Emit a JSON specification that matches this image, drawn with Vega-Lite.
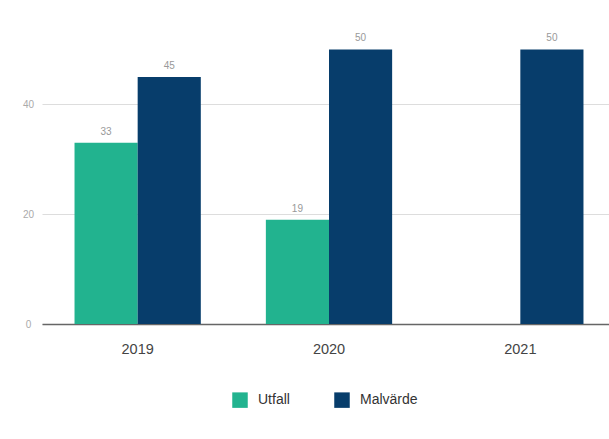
{
  "$schema": "https://vega.github.io/schema/vega-lite/v6.json",
  "width": 574,
  "height": 324,
  "autosize": {"type": "none"},
  "padding": {"left": 42, "top": 0, "right": 0, "bottom": 115},
  "background": "white",
  "config": {"view": {"stroke": null}, "font": "Liberation Sans"},
  "data": {"values": [
    {"year": "2019", "serie": "Utfall", "value": 33},
    {"year": "2019", "serie": "Malvärde", "value": 45},
    {"year": "2020", "serie": "Utfall", "value": 19},
    {"year": "2020", "serie": "Malvärde", "value": 50},
    {"year": "2021", "serie": "Malvärde", "value": 50}
  ]},
  "encoding": {
    "x": {"field": "year", "type": "nominal", "title": null,
      "scale": {"paddingInner": 0.34, "paddingOuter": 0.17},
      "axis": {"labelAngle": 0, "labelFontSize": 14.5, "labelColor": "#444", "labelPadding": 18, "ticks": false, "domainColor": "#666", "domainWidth": 1.5}},
    "xOffset": {"field": "serie", "type": "nominal", "sort": ["Utfall", "Malvärde"], "scale": {"paddingInner": 0}},
    "y": {"field": "value", "type": "quantitative", "title": null,
      "scale": {"domain": [0, 59], "nice": false},
      "axis": {"values": [0, 20, 40], "labelFontSize": 10, "labelColor": "#aaa", "labelPadding": 14, "ticks": false, "domain": false, "gridColor": "#dddddd", "labelAlign": "center"}}
  },
  "layer": [
    {"mark": {"type": "bar"},
      "encoding": {
        "color": {"field": "serie", "type": "nominal", "sort": ["Utfall", "Malvärde"],
          "scale": {"domain": ["Utfall", "Malvärde"], "range": ["#22b38f", "#073d6b"]},
          "legend": {"title": null, "orient": "none", "direction": "horizontal", "legendX": 190, "legendY": 392, "symbolType": "square", "symbolSize": 240, "symbolStrokeWidth": 0, "labelFontSize": 14, "labelColor": "#333", "columnPadding": 44, "labelOffset": 10}
        }
      }},
    {"mark": {"type": "text", "dy": -11, "fontSize": 10, "color": "#999"},
      "encoding": {"text": {"field": "value", "type": "quantitative"}}}
  ]
}
